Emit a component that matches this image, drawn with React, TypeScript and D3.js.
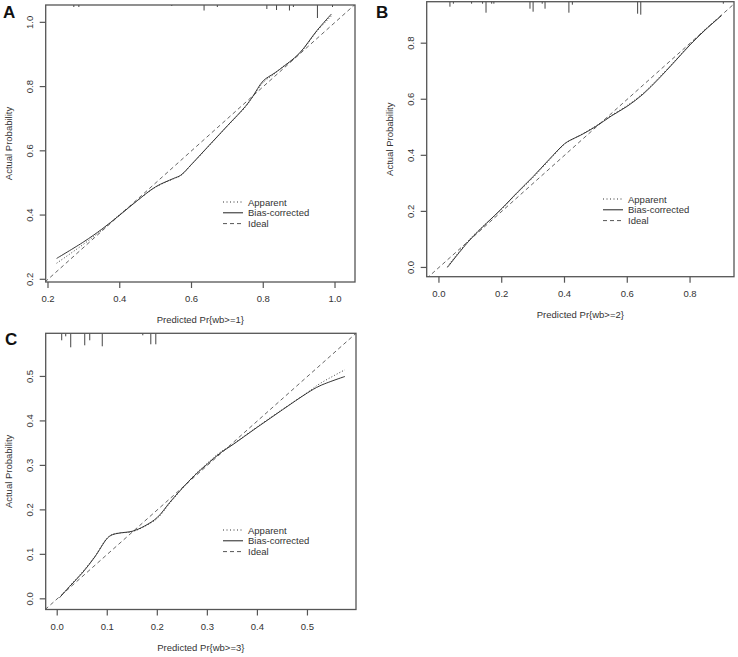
import React from "react";
import * as d3 from "d3";

// ---------- DATA ----------
const aX = [0.224, 0.3, 0.35, 0.4, 0.45, 0.5, 0.55, 0.57, 0.6, 0.65, 0.7, 0.75, 0.77, 0.8, 0.83, 0.85, 0.9, 0.95, 0.99];
const aBias = [0.265, 0.317, 0.356, 0.4, 0.446, 0.488, 0.514, 0.524, 0.558, 0.618, 0.678, 0.738, 0.768, 0.818, 0.841, 0.857, 0.903, 0.975, 1.026];
const aApparent = [0.25, 0.31, 0.353, 0.402, 0.446, 0.487, 0.513, 0.523, 0.557, 0.617, 0.677, 0.736, 0.767, 0.813, 0.839, 0.858, 0.901, 0.973, 1.02];
const aRugX = [0.272, 0.286, 0.545, 0.635, 0.672, 0.81, 0.837, 0.873, 0.884, 0.951, 0.993];
const aRugFreq = [2, 2, 1, 5.5, 2, 4, 5, 5.5, 2, 13, 2];

const bX = [0.027, 0.1, 0.2, 0.25, 0.3, 0.35, 0.4, 0.42, 0.45, 0.5, 0.55, 0.6, 0.65, 0.7, 0.75, 0.8, 0.85, 0.9];
const bBias = [0.0, 0.1, 0.21, 0.268, 0.324, 0.384, 0.441, 0.455, 0.471, 0.503, 0.541, 0.575, 0.618, 0.673, 0.733, 0.794, 0.849, 0.898];
const bApparent = [0.003, 0.103, 0.208, 0.266, 0.321, 0.381, 0.44, 0.454, 0.472, 0.505, 0.543, 0.578, 0.621, 0.676, 0.735, 0.796, 0.851, 0.9];
const bRugX = [0.035, 0.046, 0.104, 0.139, 0.15, 0.168, 0.175, 0.29, 0.3, 0.329, 0.338, 0.414, 0.425, 0.633, 0.643, 0.906];
const bRugFreq = [5, 2, 2, 2, 11, 2, 2, 7, 10, 2, 7, 11, 3, 12, 13, 2];

const cX = [0.005, 0.025, 0.05, 0.075, 0.1, 0.11, 0.125, 0.15, 0.175, 0.2, 0.225, 0.25, 0.275, 0.3, 0.325, 0.35, 0.4, 0.45, 0.5, 0.525, 0.575];
const cBias = [0.003, 0.028, 0.058, 0.094, 0.136, 0.144, 0.148, 0.152, 0.164, 0.183, 0.217, 0.249, 0.278, 0.303, 0.327, 0.346, 0.386, 0.425, 0.463, 0.479, 0.5];
const cApparent = [0.003, 0.029, 0.06, 0.095, 0.137, 0.145, 0.148, 0.151, 0.163, 0.181, 0.215, 0.248, 0.279, 0.305, 0.329, 0.347, 0.387, 0.426, 0.464, 0.484, 0.515];
const cRugX = [0.009, 0.017, 0.027, 0.055, 0.065, 0.09, 0.171, 0.187, 0.197];
const cRugFreq = [7, 3, 14, 12, 7, 13, 2, 11, 11];

const aTicks = [0.2, 0.4, 0.6, 0.8, 1.0];
const bTicks = [0.0, 0.2, 0.4, 0.6, 0.8];
const cTicks = [0.0, 0.1, 0.2, 0.3, 0.4, 0.5];

const legendLabels = ["Apparent", "Bias-corrected", "Ideal"];

// ---------- LAYOUT ----------
const FONT = "'Liberation Sans', Arial, sans-serif";
const TXT = "#333";
const AX = "#555";

type PanelDef = {
  id: string;
  letter: string;
  box: { l: number; r: number; t: number; b: number };
  xDom: [number, number];
  yDom: [number, number];
  xs: number[];
  bias: number[];
  app: number[];
  rugX: number[];
  rugF: number[];
  ticks: number[];
  xLabel: string;
  letterPos: [number, number];
  legend: [number, number];
};

const panels: PanelDef[] = [
  {
    id: "A", letter: "A",
    box: { l: 45.7, r: 355, t: 5, b: 282 },
    xDom: [0.1936, 1.0557], yDom: [0.1916, 1.054],
    xs: aX, bias: aBias, app: aApparent, rugX: aRugX, rugF: aRugFreq,
    ticks: aTicks, xLabel: "Predicted Pr{wb>=1}", letterPos: [3, 18], legend: [223, 202],
  },
  {
    id: "B", letter: "B",
    box: { l: 426.7, r: 734, t: 1.7, b: 276.7 },
    xDom: [-0.039, 0.94], yDom: [-0.033, 0.948],
    xs: bX, bias: bBias, app: bApparent, rugX: bRugX, rugF: bRugFreq,
    ticks: bTicks, xLabel: "Predicted Pr{wb>=2}", letterPos: [376, 18], legend: [603, 199],
  },
  {
    id: "C", letter: "C",
    box: { l: 45.7, r: 356, t: 333.3, b: 609.5 },
    xDom: [-0.023, 0.597], yDom: [-0.024, 0.597],
    xs: cX, bias: cBias, app: cApparent, rugX: cRugX, rugF: cRugFreq,
    ticks: cTicks, xLabel: "Predicted Pr{wb>=3}", letterPos: [5, 345], legend: [223, 530],
  },
];

function Panel({ p }: { p: PanelDef }) {
  const { box } = p;
  const x = d3.scaleLinear().domain(p.xDom).range([box.l, box.r]);
  const y = d3.scaleLinear().domain(p.yDom).range([box.b, box.t]);
  const line = d3
    .line<number>()
    .x((_, i) => x(p.xs[i]))
    .y((d) => y(d))
    .curve(d3.curveCatmullRom.alpha(0.5));
  const lo = Math.min(p.xDom[0], p.yDom[0]);
  const hi = Math.max(p.xDom[1], p.yDom[1]);
  const clipId = "clip" + p.id;
  const fmt = d3.format(".1f");
  const cx = (box.l + box.r) / 2;
  const cy = (box.t + box.b) / 2;
  const [lgx, lgy] = p.legend;
  const rowH = 10.8;
  const dashes = ["1 2.5", "", "4 3"];
  const strokes = ["#333", "#222", "#555"];
  return (
    <g>
      <defs>
        <clipPath id={clipId}>
          <rect x={box.l} y={box.t} width={box.r - box.l} height={box.b - box.t} />
        </clipPath>
      </defs>
      {/* ideal */}
      <line
        x1={x(lo)} y1={y(lo)} x2={x(hi)} y2={y(hi)}
        stroke="#666" strokeWidth={1} strokeDasharray="4 3"
        clipPath={`url(#${clipId})`}
      />
      {/* apparent */}
      <path d={line(p.app) || ""} fill="none" stroke="#444" strokeWidth={1} strokeDasharray="1 2" clipPath={`url(#${clipId})`} />
      {/* bias-corrected */}
      <path d={line(p.bias) || ""} fill="none" stroke="#333" strokeWidth={1} clipPath={`url(#${clipId})`} />
      {/* rug */}
      {p.rugX.map((v, i) => (
        <line key={i} x1={x(v)} x2={x(v)} y1={box.t} y2={box.t + p.rugF[i]} stroke="#444" strokeWidth={1} />
      ))}
      {/* box */}
      <rect x={box.l} y={box.t} width={box.r - box.l} height={box.b - box.t} fill="none" stroke={AX} strokeWidth={1.3} />
      {/* x axis */}
      {p.ticks.map((t) => (
        <g key={"x" + t}>
          <line x1={x(t)} x2={x(t)} y1={box.b} y2={box.b + 6} stroke={AX} strokeWidth={1.2} />
          <text x={x(t)} y={box.b + 20} textAnchor="middle" fontSize={9.5} fill={TXT} fontFamily={FONT}>
            {fmt(t)}
          </text>
        </g>
      ))}
      {/* y axis */}
      {p.ticks.map((t) => (
        <g key={"y" + t}>
          <line x1={box.l - 6} x2={box.l} y1={y(t)} y2={y(t)} stroke={AX} strokeWidth={1.2} />
          <text
            transform={`translate(${box.l - 12.5},${y(t)}) rotate(-90)`}
            textAnchor="middle" fontSize={9.5} fill={TXT} fontFamily={FONT}
          >
            {fmt(t)}
          </text>
        </g>
      ))}
      <text x={cx} y={box.b + 41} textAnchor="middle" fontSize={9.5} fill={TXT} fontFamily={FONT}>
        {p.xLabel}
      </text>
      <text
        transform={`translate(${box.l - 34},${cy}) rotate(-90)`}
        textAnchor="middle" fontSize={9.5} fill={TXT} fontFamily={FONT}
      >
        Actual Probability
      </text>
      <text x={p.letterPos[0]} y={p.letterPos[1]} fontSize={17} fontWeight="bold" fill="#111" fontFamily={FONT}>
        {p.letter}
      </text>
      {/* legend */}
      {legendLabels.map((lab, i) => (
        <g key={lab}>
          <line
            x1={lgx} x2={lgx + 20} y1={lgy + i * rowH} y2={lgy + i * rowH}
            stroke={strokes[i]} strokeWidth={1} strokeDasharray={dashes[i] || undefined}
          />
          <text x={lgx + 25} y={lgy + i * rowH + 3.5} fontSize={9.5} fill={TXT} fontFamily={FONT}>
            {lab}
          </text>
        </g>
      ))}
    </g>
  );
}

export default function App() {
  return (
    <svg
      width={738}
      height={657}
      style={{ position: "absolute", left: 0, top: 0, background: "#fff" }}
    >
      <rect width={738} height={657} fill="#fff" />
      {panels.map((p) => (
        <Panel key={p.id} p={p} />
      ))}
    </svg>
  );
}
